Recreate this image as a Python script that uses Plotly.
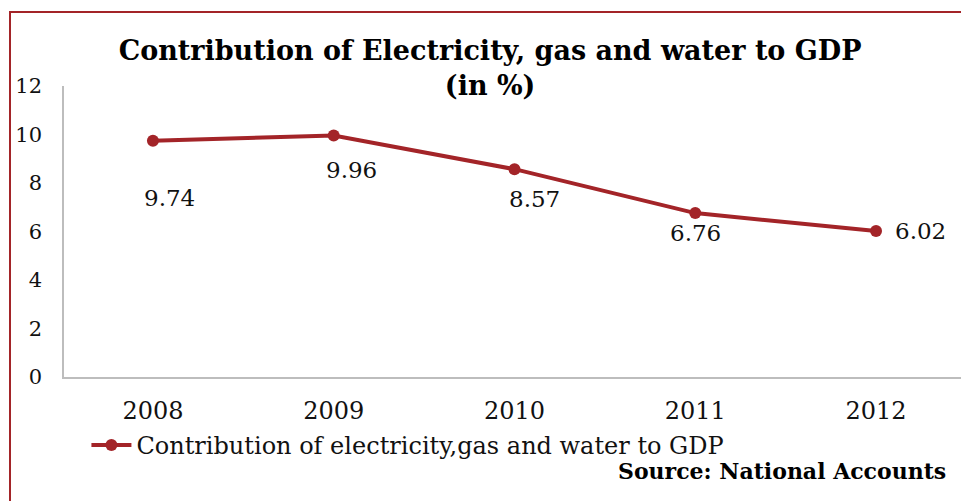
import plotly.graph_objects as go

years = ["2008", "2009", "2010", "2011", "2012"]
values = [9.74, 9.96, 8.57, 6.76, 6.02]
label_text = ["9.74", "9.96", "8.57", "6.76", "6.02"]
y_ticks = [0, 2, 4, 6, 8, 10, 12]

RED = "#A32428"
SERIF = "DejaVu Serif"

fig = go.Figure()
fig.add_trace(go.Scatter(
    x=list(range(len(years))), y=values, mode="lines+markers",
    name="Contribution of electricity,gas and water to GDP",
    line=dict(color=RED, width=4),
    marker=dict(color=RED, size=12),
))

# label offsets (px) as in reference
offs = [(17, -57), (18, -35), (20, -30), (0, -20), (44, 0)]
for i, (v, t, (dx, dy)) in enumerate(zip(values, label_text, offs)):
    fig.add_annotation(x=i, y=v, xref="x", yref="y", text=t, showarrow=False,
                       xshift=dx, yshift=dy,
                       font=dict(family=SERIF, size=23, color="#111"))

fig.update_layout(
    width=961, height=501,
    margin=dict(l=64, r=0, t=86, b=124),
    paper_bgcolor="white", plot_bgcolor="white",
    showlegend=True,
    legend=dict(x=0.025, y=-0.158, xanchor="left", yanchor="top",
                font=dict(family=SERIF, size=24, color="#111"),
                bgcolor="rgba(0,0,0,0)", itemwidth=40),
    title=dict(text="Contribution of Electricity, gas and water to GDP<br>(in %)",
               x=0.51, xanchor="center", yref="container", y=1 - 60 / 501, yanchor="top",
               font=dict(family=SERIF, size=27, color="#000", weight="bold")),
    xaxis=dict(range=[-0.492, 4.47], tickvals=list(range(len(years))), ticktext=years,
               showline=True, linecolor="#BDBDBD",
               linewidth=1.5, showgrid=False, zeroline=False, ticks="",
               tickfont=dict(family=SERIF, size=24, color="#111"), ticklabelstandoff=11),
    yaxis=dict(range=[0, 12], tickvals=y_ticks, showline=True, linecolor="#BDBDBD",
               linewidth=1.5, showgrid=False, zeroline=False, ticks="",
               tickfont=dict(family=SERIF, size=21, color="#111"), ticklabelstandoff=16),
)

fig.add_annotation(xref="paper", yref="paper", x=(948 - 64) / 897, y=-(471 - 377) / 291,
                   xanchor="right", yanchor="middle", showarrow=False,
                   text="<b>Source: National Accounts</b>",
                   font=dict(family=SERIF, size=22, color="#000"))

fig.add_shape(type="rect", xref="paper", yref="paper",
              x0=(10 - 64) / 897, x1=(975 - 64) / 897, y0=-(520 - 377) / 291, y1=(377 - 12) / 291,
              line=dict(color=RED, width=2), layer="above")

fig.write_html("out.html")
